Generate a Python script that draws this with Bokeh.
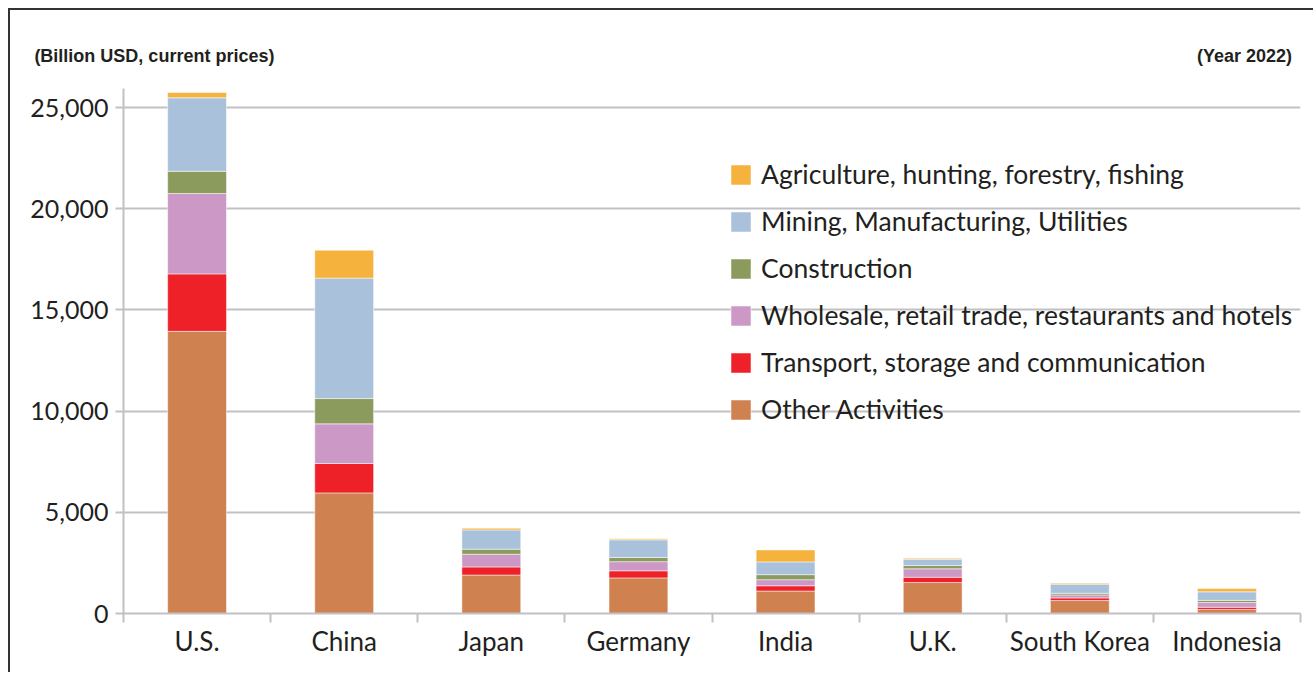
from bokeh.plotting import figure
from bokeh.models import (Range1d, FixedTicker, NumeralTickFormatter, LinearAxis,
                          Legend, LegendItem, ColumnDataSource)
from bokeh.embed import file_html
from bokeh.resources import INLINE

countries = ["U.S.", "China", "Japan", "Germany", "India", "U.K.", "South Korea", "Indonesia"]
other = [13940, 5960, 1900, 1760, 1110, 1530, 640, 200]
transport = [2840, 1450, 400, 350, 260, 260, 130, 110]
wholesale = [3970, 1960, 630, 450, 300, 420, 150, 230]
construction = [1100, 1250, 250, 210, 250, 160, 80, 110]
mining = [3630, 5950, 950, 870, 630, 310, 450, 420]
agriculture = [260, 1380, 80, 50, 590, 50, 50, 160]

sectors = ["other", "transport", "wholesale", "construction", "mining", "agriculture"]
sector_labels = ["Other Activities", "Transport, storage and communication",
                 "Wholesale, retail trade, restaurants and hotels", "Construction",
                 "Mining, Manufacturing, Utilities", "Agriculture, hunting, forestry, fishing"]
colors = ["#D08150", "#EE2028", "#CC98C6", "#8B9B5E", "#AAC1DC", "#F5B33E"]
y_ticks = [0, 5000, 10000, 15000, 20000, 25000]
unit_note = "(Billion USD, current prices)"
year_note = "(Year 2022)"

n = len(countries)
centers = [i + 0.5 for i in range(n)]
data = dict(x=centers, other=other, transport=transport, wholesale=wholesale,
            construction=construction, mining=mining, agriculture=agriculture)
source = ColumnDataSource(data)

FONT = "Lato"
TXT = "#231F20"
GRID = "#C1C1C5"

p = figure(x_range=Range1d(0, n), y_range=Range1d(0, 25940),
           width=1305, height=664, output_backend="svg", toolbar_location=None,
           min_border_left=113, min_border_right=15, min_border_top=78, min_border_bottom=61)
p.outline_line_color = None
p.styles = {"margin-left": "8px", "margin-top": "8px",
            "border-left": "2px solid #333333", "border-top": "2px solid #333333"}

renderers = p.vbar_stack(sectors, x="x", width=0.4, source=source, color=colors,
                         line_color="white", line_alpha=0.5, line_width=1)

# y axis
yax = p.yaxis[0]
yax.ticker = FixedTicker(ticks=y_ticks)
yax.formatter = NumeralTickFormatter(format="0,0")
yax.axis_line_color = GRID
yax.axis_line_width = 2
yax.major_tick_line_color = GRID
yax.major_tick_line_width = 2
yax.major_tick_out = 8
yax.major_tick_in = 0
yax.minor_tick_line_color = None
yax.major_label_text_font = FONT
yax.major_label_text_font_size = "25px"
yax.major_label_text_color = TXT
yax.major_label_standoff = 7

p.ygrid.ticker = FixedTicker(ticks=y_ticks)
p.ygrid.grid_line_color = GRID
p.ygrid.grid_line_width = 2
p.xgrid.grid_line_color = None

# x axis: labels at category centres, tick marks at category boundaries
xax = p.xaxis[0]
xax.ticker = FixedTicker(ticks=centers, minor_ticks=list(range(n + 1)))
xax.major_label_overrides = {c: name for c, name in zip(centers, countries)}
xax.axis_line_color = GRID
xax.axis_line_width = 2
xax.major_tick_line_color = None
xax.minor_tick_line_color = GRID
xax.minor_tick_line_width = 2
xax.minor_tick_out = 9
xax.minor_tick_in = 0
xax.major_label_text_font = FONT
xax.major_label_text_font_size = "26px"
xax.major_label_text_color = TXT
xax.major_label_standoff = 2

# header notes (unit on the left, year on the right) as labels of a bare top axis
note_pos = [0.21, 7.62]
top_axis = LinearAxis(ticker=FixedTicker(ticks=note_pos),
                      major_label_overrides={note_pos[0]: unit_note, note_pos[1]: year_note},
                      axis_line_color=None, major_tick_line_color=None, minor_tick_line_color=None,
                      major_tick_out=0, major_tick_in=0,
                      major_label_text_font="Liberation Sans", major_label_text_font_size="18px",
                      major_label_text_font_style="bold",
                      major_label_text_color=TXT, major_label_standoff=23)
p.add_layout(top_axis, "above")

items = [LegendItem(label=lab, renderers=[r]) for lab, r in zip(sector_labels, renderers)]
legend = Legend(items=items[::-1], location=(605, 188), orientation="vertical",
                glyph_width=25, glyph_height=25, label_height=32, spacing=15,
                label_standoff=8, padding=0, margin=0,
                label_text_font=FONT, label_text_font_size="26.5px", label_text_color=TXT,
                border_line_color=None, background_fill_alpha=0)
p.add_layout(legend, "center")

open("out.html", "w").write(file_html(p, INLINE))
